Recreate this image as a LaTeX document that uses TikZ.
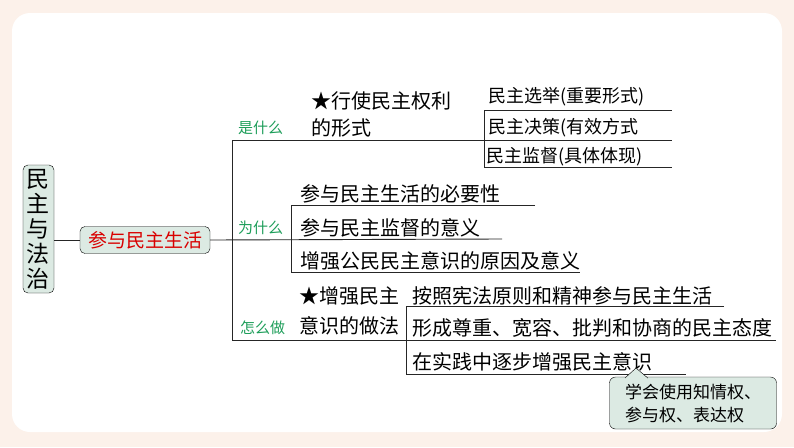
\documentclass[tikz,border=0pt]{standalone}
\usepackage{fontspec}
\setmainfont{Noto Sans CJK SC}
\definecolor{peach}{HTML}{FCF1EA}
\definecolor{tealbox}{HTML}{DCEAE3}
\definecolor{grn}{HTML}{1E9E5A}
\tikzset{x=1pt,y=-1pt,
 t/.style={anchor=west,inner sep=0pt,font=\fontsize{20}{22}\selectfont},
 g/.style={anchor=west,inner sep=0pt,text=grn,font=\fontsize{15}{17}\selectfont},
 ln/.style={line width=0.9pt,black!85}}
\begin{document}
\begin{tikzpicture}
\fill[peach] (0,0) rectangle (794,447);
\fill[white,rounded corners=18pt] (12,13) rectangle (782,432);
\useasboundingbox (0,0) rectangle (794,447);
% left boxes
\node[draw,fill=tealbox,rounded corners=5pt,minimum width=31pt,minimum height=128pt,inner sep=1pt,align=center,font=\fontsize{23}{25}\selectfont] (root) at (38.5,229) {民\\主\\与\\法\\治};
\node[draw,fill=tealbox,rounded corners=5pt,minimum width=130pt,minimum height=27pt,inner sep=1pt,text=red!85!black,font=\fontsize{19}{21}\selectfont] (sub) at (145,240) {参与民主生活};
\draw[ln] (root.east |- sub.west) -- (sub.west);
% trunk
\coordinate (t1) at (232,140); \coordinate (t3) at (232,340);
\draw[ln] (sub.east) -- (502,239);
\draw[ln] (t1) -- (t3);
% what
\draw[ln] (t1) -- (672,140);
\node[g] (w1) at (238,128) {是什么};
\node[t] (a1) at (311,101) {★行使民主权利};
\node[t] (a2) at (311,128) {的形式};
\draw[ln] (484,110) -- (672,110);
\draw[ln] (484,110) -- (484,167) -- (672,167);
\node[t,font=\fontsize{18}{20}\selectfont] (b1) at (488,97) {民主选举(重要形式)};
\node[t,font=\fontsize{18}{20}\selectfont] (b2) at (488,128) {民主决策(有效方式};
\node[t,font=\fontsize{18}{20}\selectfont] (b3) at (486,157) {民主监督(具体体现)};
% why
\node[g] (w2) at (238,228) {为什么};
\draw[ln] (535,205) -- (291,205) -- (291,272) -- (580,272);
\node[t] (c1) at (300,194) {参与民主生活的必要性};
\node[t] (c2) at (300,228) {参与民主监督的意义};
\node[t] (c3) at (300,261) {增强公民民主意识的原因及意义};
% how
\node[g] (w3) at (240,328) {怎么做};
\draw[ln] (t3) -- (776,340);
\node[t] (d1) at (299,296) {★增强民主};
\node[t] (d2) at (299,326) {意识的做法};
\draw[ln] (724,306) -- (406,306) -- (406,374) -- (686,374);
\node[t] (e1) at (412,296) {按照宪法原则和精神参与民主生活};
\node[t] (e2) at (412,328) {形成尊重、宽容、批判和协商的民主态度};
\node[t] (e3) at (412,362) {在实践中逐步增强民主意识};
% callout
\node[draw,fill=tealbox,rounded corners=6pt,minimum width=167pt,minimum height=52pt,align=left,inner sep=2pt,font=\fontsize{17}{23}\selectfont] (call) at (693,403) {学会使用知情权、\\参与权、表达权};
\draw[fill=tealbox] (625,378) -- (636,368) -- (648,378.2);
\end{tikzpicture}
\end{document}
